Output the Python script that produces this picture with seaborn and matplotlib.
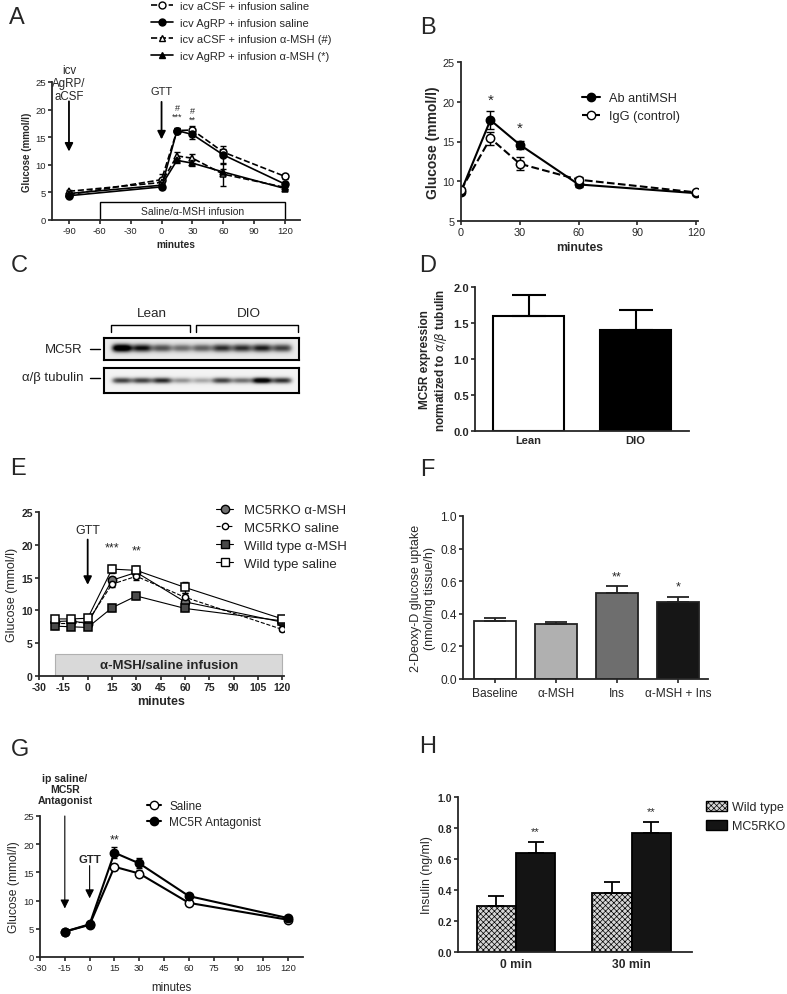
import numpy as np
import pandas as pd
import matplotlib
matplotlib.use("Agg")
import matplotlib.pyplot as plt
import seaborn as sns
from matplotlib.lines import Line2D
from matplotlib.patches import Rectangle, Patch

# ---------------- data ----------------
# A: icv AgRP / aCSF + infusion saline / alpha-MSH
a_time = [-90, 0, 15, 30, 60, 120]
a_csf_sal = [4.6, 7.3, 16.2, 16.3, 12.3, 7.9]
a_csf_sal_err = [0.3, 1.1, 0.5, 0.8, 0.6, 0.4]
a_agrp_sal = [4.4, 6.0, 16.2, 15.5, 11.8, 6.5]
a_agrp_sal_err = [0.2, 0.3, 0.4, 0.9, 1.6, 0.3]
a_csf_msh = [5.2, 6.8, 11.6, 11.2, 8.3, 5.9]
a_csf_msh_err = [0.2, 0.6, 0.7, 0.8, 2.1, 0.3]
a_agrp_msh = [4.8, 6.3, 10.8, 10.3, 8.7, 5.7]
a_agrp_msh_err = [0.2, 0.4, 0.5, 0.5, 0.6, 0.3]

# B: antibody against alpha-MSH
b_time = [0, 15, 30, 60, 120]
b_anti = [8.7, 17.7, 14.6, 9.6, 8.5]
b_anti_err = [0.3, 1.1, 0.5, 0.3, 0.2]
b_igg = [8.9, 15.4, 12.2, 10.2, 8.6]
b_igg_err = [0.3, 0.8, 0.8, 0.3, 0.2]

# C: western blot band intensities (lean x4, DIO x5)
c_mc5r = [1.0, 0.75, 0.55, 0.45, 0.5, 0.65, 0.65, 0.7, 0.6]
c_tubulin = [0.65, 0.65, 0.72, 0.38, 0.32, 0.65, 0.5, 0.95, 0.7]

# D
d_groups = ["Lean", "DIO"]
d_vals = [1.6, 1.4]
d_err = [0.29, 0.28]

# E
e_time = [-20, -10, 0, 15, 30, 60, 120]
e_ko_msh = [8.3, 8.4, 8.0, 14.6, 15.8, 11.3, 8.2]
e_ko_msh_err = [0.3, 0.3, 0.3, 0.5, 0.9, 0.6, 0.3]
e_ko_sal = [8.0, 8.0, 8.3, 14.0, 15.2, 12.0, 7.1]
e_ko_sal_err = [0.3, 0.3, 0.3, 0.5, 0.5, 0.6, 0.3]
e_wt_msh = [7.6, 7.5, 7.4, 10.4, 12.2, 10.3, 8.4]
e_wt_msh_err = [0.4, 0.3, 0.3, 0.5, 0.4, 0.4, 0.3]
e_wt_sal = [8.7, 8.7, 8.8, 16.3, 16.1, 13.5, 8.7]
e_wt_sal_err = [0.3, 0.3, 0.3, 0.6, 0.6, 0.9, 0.3]

# F
f_groups = ["Baseline", "α-MSH", "Ins", "α-MSH + Ins"]
f_vals = [0.355, 0.335, 0.53, 0.47]
f_err = [0.02, 0.012, 0.04, 0.035]
f_stars = ["", "", "**", "*"]

# G
g_time = [-15, 0, 15, 30, 60, 120]
g_saline = [4.5, 5.7, 16.0, 14.8, 9.6, 6.6]
g_saline_err = [0.2, 0.3, 0.5, 0.6, 0.3, 0.3]
g_antag = [4.5, 5.8, 18.5, 16.6, 10.8, 6.9]
g_antag_err = [0.2, 0.3, 1.0, 0.9, 0.3, 0.3]

# H
h_times = ["0 min", "30 min"]
h_wt = [0.295, 0.38]
h_wt_err = [0.065, 0.07]
h_ko = [0.64, 0.77]
h_ko_err = [0.07, 0.07]

# ---------------- figure ----------------
sns.set_style("ticks")
plt.rcParams["font.family"] = ["Liberation Sans", "DejaVu Sans"]
plt.rcParams["hatch.linewidth"] = 0.5
plt.rcParams["axes.unicode_minus"] = False

W, H = 787, 995
fig = plt.figure(figsize=(W / 100, H / 100), dpi=100)


def add_ax(l, t, r, b):
    return fig.add_axes([l / W, 1 - b / H, (r - l) / W, (b - t) / H])


def letter(x, y, s):
    fig.text(x / W, 1 - y / H, s, fontsize=17, ha="center", va="center")


def style(ax, fs, bold=False):
    sns.despine(ax=ax)
    for sp in ["left", "bottom"]:
        ax.spines[sp].set_linewidth(1.3)
    ax.tick_params(width=1.2, length=3, labelsize=fs, pad=1.5)
    if bold:
        for lab in ax.get_xticklabels() + ax.get_yticklabels():
            lab.set_fontweight("bold")


def line(ax, x, y, err, mfc="black", ls="-", marker="o", ms=5, lw=1.2, cap=2.5):
    sns.lineplot(x=x, y=y, ax=ax, color="black", marker=marker, markersize=ms,
                 markerfacecolor=mfc, markeredgecolor="black", markeredgewidth=1.1,
                 linestyle=ls, linewidth=lw, errorbar=None, legend=False)
    ax.errorbar(x, y, yerr=err, fmt="none", ecolor="black", elinewidth=1,
                capsize=cap, capthick=1, zorder=1)


def arrow(ax, x, y0, y1, lw=1.3, ms=12):
    ax.annotate("", xy=(x, y1), xytext=(x, y0),
                arrowprops=dict(arrowstyle="-|>", color="black", lw=lw,
                                mutation_scale=ms, shrinkA=0, shrinkB=0),
                annotation_clip=False)


# ---- A ----
ax = add_ax(52, 83, 300, 221)
line(ax, a_time, a_csf_sal, a_csf_sal_err, mfc="white", ls="--")
line(ax, a_time, a_agrp_sal, a_agrp_sal_err)
line(ax, a_time, a_csf_msh, a_csf_msh_err, mfc="white", ls="--", marker="^")
line(ax, a_time, a_agrp_msh, a_agrp_msh_err, marker="^")
ax.set_xlim(-106.5, 134.6)
ax.set_ylim(0, 25)
ax.set_xticks(range(-90, 121, 30))
ax.set_yticks(range(0, 26, 5))
ax.set_xlabel("minutes", fontsize=7.3, fontweight="bold", labelpad=3)
ax.set_ylabel("Glucose (mmol/l)", fontsize=7, fontweight="bold", labelpad=2)
style(ax, 6.8)
ax.add_patch(Rectangle((-60, 0), 180, 3.2, facecolor="white", edgecolor="black", lw=1, zorder=0.5))
ax.text(30, 1.6, "Saline/α-MSH infusion", ha="center", va="center", fontsize=7.5)
ax.text(-90, 24.8, "icv\nAgRP/\naCSF", ha="center", va="center", fontsize=8.3,
        linespacing=1.15, clip_on=False)
arrow(ax, -90, 21.5, 12.4)
ax.text(0, 23.4, "GTT", ha="center", va="center", fontsize=8)
arrow(ax, 0, 21.4, 14.6)
ax.text(15, 19.6, "#\n***", ha="center", va="center", fontsize=6.5, linespacing=0.9)
ax.text(30, 19.0, "#\n**", ha="center", va="center", fontsize=6.5, linespacing=0.9)
a_handles = [
    Line2D([], [], color="black", ls="--", marker="o", mfc="white", mec="black", ms=5, lw=1.2),
    Line2D([], [], color="black", ls="-", marker="o", mfc="black", mec="black", ms=5, lw=1.2),
    Line2D([], [], color="black", ls="--", marker="^", mfc="white", mec="black", ms=5, lw=1.2),
    Line2D([], [], color="black", ls="-", marker="^", mfc="black", mec="black", ms=5, lw=1.2),
]
a_labels = ["icv aCSF + infusion saline", "icv AgRP + infusion saline",
            "icv aCSF + infusion α-MSH (#)", "icv AgRP + infusion α-MSH (*)"]
fig.legend(a_handles, a_labels, loc="upper left", bbox_to_anchor=(151 / W, 1 - 2 / H),
           frameon=False, fontsize=8, handlelength=2.0, handletextpad=0.6,
           labelspacing=0.6, borderpad=0, borderaxespad=0)
letter(17, 18, "A")

# ---- B ----
ax = add_ax(461, 63, 698, 222)
line(ax, b_time, b_anti, b_anti_err, lw=1.5, ms=6, cap=3)
line(ax, b_time, b_igg, b_igg_err, mfc="white", ls="--", lw=1.5, ms=6, cap=3)
ax.set_xlim(0, 121)
ax.set_ylim(5, 25)
ax.set_xticks([0, 30, 60, 90, 120])
ax.set_yticks(range(5, 26, 5))
ax.set_xlabel("minutes", fontsize=8.8, fontweight="bold", labelpad=3)
ax.set_ylabel("Glucose (mmol/l)", fontsize=10, fontweight="bold", labelpad=2)
style(ax, 7.8)
ax.text(15, 20.3, "*", ha="center", va="center", fontsize=11)
ax.text(30, 16.7, "*", ha="center", va="center", fontsize=11)
b_handles = [
    Line2D([], [], color="black", ls="-", marker="o", mfc="black", mec="black", ms=6, lw=1.5),
    Line2D([], [], color="black", ls="--", marker="o", mfc="white", mec="black", ms=6, lw=1.5),
]
fig.legend(b_handles, ["Ab antiMSH", "IgG (control)"], loc="upper left",
           bbox_to_anchor=(582 / W, 1 - 93 / H), frameon=False, fontsize=9.2,
           handlelength=1.4, handletextpad=0.7, labelspacing=0.5,
           borderpad=0, borderaxespad=0)
letter(428, 28, "B")

# ---- C: western blot ----
letter(19, 266, "C")


def blot(ax, bands, band_h, yc, bg):
    w, h = 195, 24
    xx = np.arange(w)[None, :] + 0.5
    yy = np.arange(h)[:, None] + 0.5
    centers = np.linspace(18, 178, len(bands))
    img = np.full((h, w), bg)
    for c, b in zip(centers, bands):
        img = img + 1.1 * b * np.exp(-((xx - c) / 10.0) ** 4) * np.exp(-((yy - yc) / band_h) ** 2)
    ax.imshow(np.clip(img, 0, 1), cmap="Greys", vmin=0, vmax=1.0, aspect="auto",
              extent=(0, w, h, 0), interpolation="bicubic")
    ax.set_xticks([])
    ax.set_yticks([])
    for sp in ax.spines.values():
        sp.set_linewidth(1.5)
        sp.set_color("black")


blot(add_ax(104, 339, 299, 361), c_mc5r, 4.5, 11, 0.16)
blot(add_ax(104, 369, 299, 394), c_tubulin, 3.0, 12, 0.10)
cax = add_ax(0, 290, 400, 420)
cax.set_xlim(0, 400)
cax.set_ylim(420, 290)
cax.axis("off")
cax.patch.set_alpha(0)
cax.text(83, 350, "MC5R", ha="right", va="center", fontsize=9.5)
cax.text(83, 378, "α/β tubulin", ha="right", va="center", fontsize=9.5)
cax.plot([90, 100], [350, 350], color="black", lw=1)
cax.plot([90, 100], [379, 379], color="black", lw=1)
cax.plot([111, 111, 190, 190], [333, 326, 326, 333], color="black", lw=1)
cax.plot([196, 196, 298, 298], [333, 326, 326, 333], color="black", lw=1)
cax.text(152, 314, "Lean", ha="center", va="center", fontsize=9.7)
cax.text(249, 314, "DIO", ha="center", va="center", fontsize=9.7)

# ---- D ----
ax = add_ax(475, 288, 689, 432)
sns.barplot(x=d_groups, y=d_vals, hue=d_groups, palette=["white", "black"],
            edgecolor="black", linewidth=1.5, width=0.67, errorbar=None,
            legend=False, ax=ax)
ax.errorbar(range(len(d_vals)), d_vals, yerr=[[0] * len(d_err), d_err], fmt="none",
            ecolor="black", elinewidth=1.5, capsize=12, capthick=1.5)
ax.set_xlim(-0.5, 1.5)
ax.set_ylim(0, 2.0)
ax.set_yticks([0, 0.5, 1.0, 1.5, 2.0])
ax.set_yticklabels(["0.0", "0.5", "1.0", "1.5", "2.0"])
ax.set_ylabel("MC5R expression\nnormatized to $\\alpha/\\beta$ tubulin", fontsize=8.5,
              fontweight="bold", labelpad=3)
style(ax, 8, bold=True)
ax.tick_params(axis="x", length=0, pad=3)
letter(428, 266, "D")

# ---- E ----
ax = add_ax(39, 513, 284, 677)
line(ax, e_time, e_ko_msh, e_ko_msh_err, mfc="#707070", ms=6, lw=0.8, cap=2)
line(ax, e_time, e_ko_sal, e_ko_sal_err, mfc="white", ls="--", ms=4.5, lw=0.8, cap=2)
line(ax, e_time, e_wt_msh, e_wt_msh_err, mfc="#4a4a4a", marker="s", ms=6, lw=0.8, cap=2)
line(ax, e_time, e_wt_sal, e_wt_sal_err, mfc="white", marker="s", ms=6, lw=0.8, cap=2)
ax.set_xlim(-30, 121)
ax.set_ylim(0, 25)
ax.set_xticks(range(-30, 121, 15))
ax.set_yticks(range(0, 26, 5))
ax.set_xlabel("minutes", fontsize=9, fontweight="bold", labelpad=2)
ax.set_ylabel("Glucose (mmol/l)", fontsize=9, labelpad=2)
style(ax, 7.5, bold=True)
ax.add_patch(Rectangle((-20, 0), 140, 3.3, facecolor="#d9d9d9", edgecolor="#b0b0b0",
                       lw=0.8, zorder=0.5))
ax.text(50, 1.65, "α-MSH/saline infusion", ha="center", va="center", fontsize=9.5,
        fontweight="bold")
ax.text(0, 22.3, "GTT", ha="center", va="center", fontsize=9)
arrow(ax, 0, 20.8, 13.9)
ax.text(15, 19.6, "***", ha="center", va="center", fontsize=9)
ax.text(30, 19.1, "**", ha="center", va="center", fontsize=9)
e_handles = [
    Line2D([], [], color="black", ls="-", marker="o", mfc="#707070", mec="black", ms=6, lw=0.8),
    Line2D([], [], color="black", ls="--", marker="o", mfc="white", mec="black", ms=4.5, lw=0.8),
    Line2D([], [], color="black", ls="-", marker="s", mfc="#4a4a4a", mec="black", ms=6, lw=0.8),
    Line2D([], [], color="black", ls="-", marker="s", mfc="white", mec="black", ms=6, lw=0.8),
]
fig.legend(e_handles, ["MC5RKO α-MSH", "MC5RKO saline", "Willd type α-MSH", "Wild type saline"],
           loc="upper left", bbox_to_anchor=(216 / W, 1 - 505 / H), frameon=False,
           fontsize=9.5, handlelength=1.3, handletextpad=0.8, labelspacing=0.42,
           borderpad=0, borderaxespad=0)
letter(18, 469, "E")

# ---- F ----
ax = add_ax(463, 517, 708, 680)
sns.barplot(x=f_groups, y=f_vals, hue=f_groups,
            palette=["white", "#b0b0b0", "#6e6e6e", "#161616"],
            edgecolor="#222222", linewidth=1.3, width=0.68, errorbar=None,
            legend=False, ax=ax)
ax.errorbar(range(len(f_vals)), f_vals, yerr=[[0] * len(f_err), f_err], fmt="none",
            ecolor="#222222", elinewidth=1.3, capsize=8, capthick=1.3)
for i, s in enumerate(f_stars):
    if s:
        ax.text(i, f_vals[i] + f_err[i] + 0.06, s, ha="center", va="center", fontsize=9)
ax.set_xlim(-0.52, 3.49)
ax.set_ylim(0, 1.0)
ax.set_yticks([0, 0.2, 0.4, 0.6, 0.8, 1.0])
ax.set_yticklabels(["0.0", "0.2", "0.4", "0.6", "0.8", "1.0"])
ax.set_xlabel("")
ax.set_ylabel("2-Deoxy-D glucose uptake\n(nmol/mg tissue/h)", fontsize=9, labelpad=3)
style(ax, 8.6)
ax.tick_params(axis="x", length=3, pad=3)
letter(427, 470, "F")

# ---- G ----
ax = add_ax(40, 817, 303, 958)
line(ax, g_time, g_saline, g_saline_err, mfc="white", lw=1.5, ms=6, cap=2.5)
line(ax, g_time, g_antag, g_antag_err, lw=1.5, ms=6, cap=2.5)
ax.set_xlim(-30, 129)
ax.set_ylim(0, 25)
ax.set_xticks(range(-30, 121, 15))
ax.set_yticks(range(0, 26, 5))
ax.set_xlabel("minutes", fontsize=8.3, labelpad=6)
ax.set_ylabel("Glucose (mmol/l)", fontsize=8.7, labelpad=2)
style(ax, 6.8)
ax.text(-15, 29.8, "ip saline/\nMC5R\nAntagonist", ha="center", va="center",
        fontsize=7.6, fontweight="bold", linespacing=1.15, clip_on=False)
arrow(ax, -15, 25, 8.6, lw=0.8, ms=13)
ax.text(0, 17.4, "GTT", ha="center", va="center", fontsize=8.2, fontweight="bold")
arrow(ax, 0, 16.2, 10.4, lw=0.8, ms=13)
ax.text(15, 20.9, "**", ha="center", va="center", fontsize=9)
g_handles = [
    Line2D([], [], color="black", ls="-", marker="o", mfc="white", mec="black", ms=6, lw=1.5),
    Line2D([], [], color="black", ls="-", marker="o", mfc="black", mec="black", ms=6, lw=1.5),
]
fig.legend(g_handles, ["Saline", "MC5R Antagonist"], loc="upper left",
           bbox_to_anchor=(147 / W, 1 - 801 / H), frameon=False, fontsize=8.5,
           handlelength=1.2, handletextpad=0.7, labelspacing=0.35,
           borderpad=0, borderaxespad=0)
letter(20, 750, "G")

# ---- H ----
ax = add_ax(458, 798, 692, 953)
h_df = pd.DataFrame({
    "time": h_times * 2,
    "group": ["Wild type"] * len(h_times) + ["MC5RKO"] * len(h_times),
    "insulin": h_wt + h_ko,
})
sns.barplot(data=h_df, x="time", y="insulin", hue="group",
            palette=["#d6d6d6", "#141414"], edgecolor="black", linewidth=1.3,
            width=0.68, errorbar=None, legend=False, ax=ax)
for p in ax.patches[:len(h_times)]:
    p.set_hatch("xxxxxx")
off = 0.68 / 4
xs = np.arange(len(h_times))
ax.errorbar(xs - off, h_wt, yerr=[[0] * len(h_wt), h_wt_err], fmt="none", ecolor="black",
            elinewidth=1.3, capsize=6, capthick=1.3)
ax.errorbar(xs + off, h_ko, yerr=[[0] * len(h_ko), h_ko_err], fmt="none", ecolor="black",
            elinewidth=1.3, capsize=6, capthick=1.3)
for i in range(len(h_times)):
    ax.text(xs[i] + off, h_ko[i] + h_ko_err[i] + 0.07, "**", ha="center", va="center",
            fontsize=8)
ax.set_xlim(-0.5, 1.52)
ax.set_ylim(0, 1.0)
ax.set_yticks([0, 0.2, 0.4, 0.6, 0.8, 1.0])
ax.set_yticklabels(["0.0", "0.2", "0.4", "0.6", "0.8", "1.0"])
ax.set_xlabel("")
ax.set_ylabel("Insulin (ng/ml)", fontsize=8.8, labelpad=3)
style(ax, 7.5, bold=True)
ax.tick_params(axis="x", length=0, pad=4)
for lab in ax.get_xticklabels():
    lab.set_fontsize(8.7)
h_handles = [Patch(facecolor="#d6d6d6", edgecolor="black", hatch="xxxxxx", lw=1),
             Patch(facecolor="#141414", edgecolor="black", lw=1)]
fig.legend(h_handles, ["Wild type", "MC5RKO"], loc="upper left",
           bbox_to_anchor=(706 / W, 1 - 802 / H), frameon=False, fontsize=9,
           handlelength=1.7, handleheight=0.9, handletextpad=0.4, labelspacing=0.5,
           borderpad=0, borderaxespad=0)
letter(428, 747, "H")

fig.savefig("out.png", dpi=100)
